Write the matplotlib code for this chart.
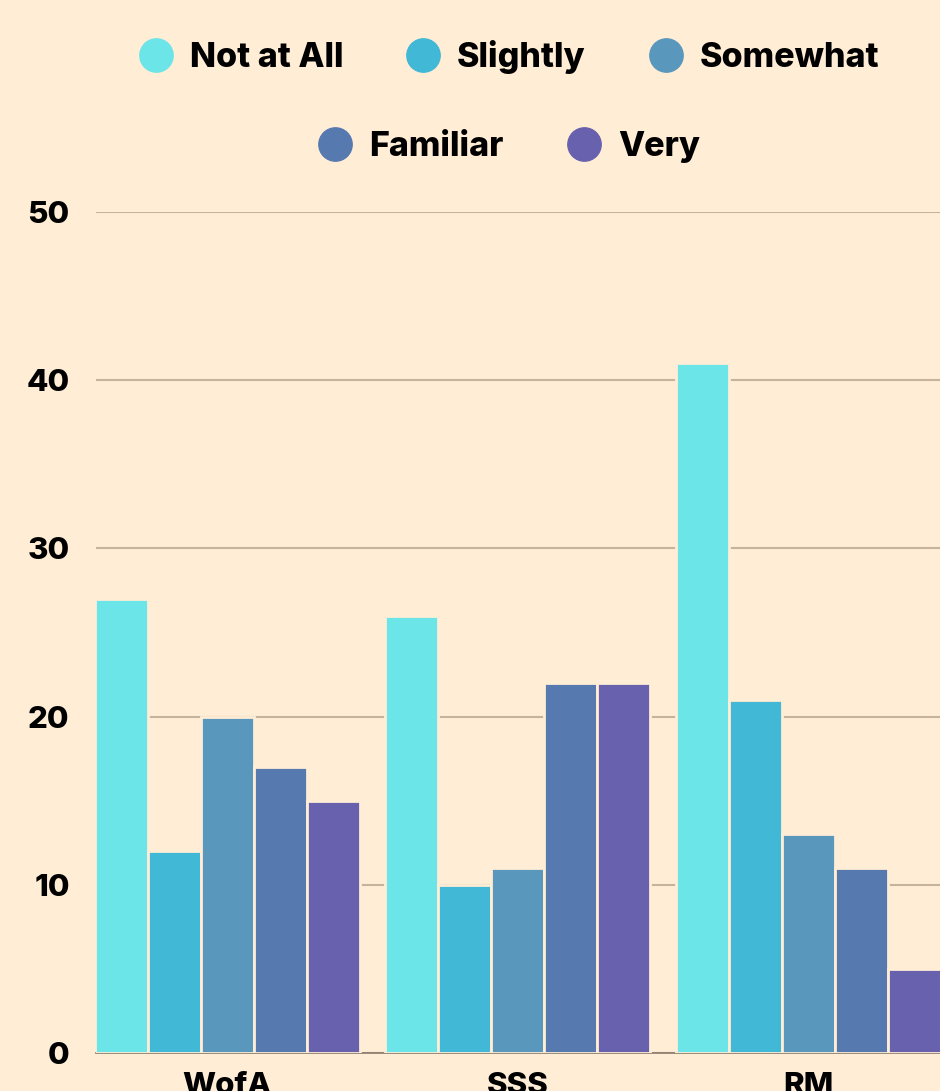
import matplotlib
matplotlib.use('Agg')
import matplotlib.pyplot as plt
from matplotlib.lines import Line2D
import numpy as np

categories = ['WofA', 'SSS', 'RM']
levels = ['Not at All', 'Slightly', 'Somewhat', 'Familiar', 'Very']
values = {
    'Not at All': [27, 26, 41],
    'Slightly': [12, 10, 21],
    'Somewhat': [20, 11, 13],
    'Familiar': [17, 22, 11],
    'Very': [15, 22, 5],
}
colors = ['#6CE5E8', '#41B8D5', '#5A97BD', '#5679B0', '#6761AE']
y_ticks = [0, 10, 20, 30, 40, 50]

bg = '#FFEDD5'
plt.rcParams['font.family'] = ['Inter', 'DejaVu Sans']
wt = 'heavy'

fig = plt.figure(figsize=(9.4, 10.91), dpi=100, facecolor=bg)
ax = fig.add_axes([96 / 940, 38 / 1091, 1 - 96 / 940, (1053 - 212) / 1091])
ax.set_facecolor(bg)

x = np.arange(len(categories))
w = 0.1823
for i, lvl in enumerate(levels):
    ax.bar(x + (i - 2) * w, values[lvl], width=w, color=colors[i],
           edgecolor=bg, linewidth=2, zorder=3)

ax.set_xlim(-0.4506, 2.452)
ax.set_ylim(0, 50)
ax.set_yticks(y_ticks)
ax.set_xticks(x)
ax.set_xticklabels(categories)
ax.grid(axis='y', color='#C4B49C', linewidth=1.5, zorder=0)
for s in ['top', 'right', 'left']:
    ax.spines[s].set_visible(False)
ax.spines['bottom'].set_color('#8A7A68')
ax.spines['bottom'].set_linewidth(1.2)
ax.tick_params(axis='both', length=0, labelsize=22.5, colors='black')
ax.tick_params(axis='y', pad=19)
ax.tick_params(axis='x', pad=14)
for lab in ax.get_xticklabels() + ax.get_yticklabels():
    lab.set_fontweight(wt)

handles = [Line2D([], [], marker='o', linestyle='', markersize=24,
                  markerfacecolor=c, markeredgecolor=c) for c in colors]
kw = dict(frameon=False, handlelength=1.0, handletextpad=0.5,
          columnspacing=1.85, prop={'size': 24.5, 'weight': wt}, loc='center')
fig.legend(handles[:3], levels[:3], ncol=3,
           bbox_to_anchor=(509 / 940, 1 - 57 / 1091), **kw)
fig.legend(handles[3:], levels[3:], ncol=2,
           bbox_to_anchor=(509 / 940, 1 - 147 / 1091), **kw)

fig.savefig('out.png', dpi=100, facecolor=bg)
